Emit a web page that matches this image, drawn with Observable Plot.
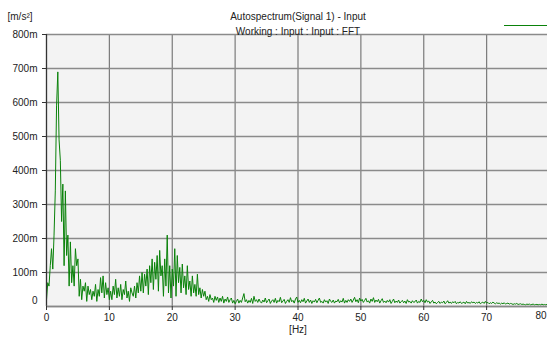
<!DOCTYPE html>
<html><head><meta charset="utf-8">
<script src="https://cdn.jsdelivr.net/npm/d3@7"></script>
<script src="https://cdn.jsdelivr.net/npm/@observablehq/plot@0.6"></script>
<style>body{margin:0;background:#fff} svg{display:block;overflow:hidden}</style>
</head><body><div id="chart"></div>
<script>
const title = "Autospectrum(Signal 1) - Input";
const subtitle = "Working : Input : Input : FFT";
const yUnit = "[m/s²]";
const xUnit = "[Hz]";
const xTicks = [0, 10, 20, 30, 40, 50, 60, 70, 80];
const yTicks = [0, 100, 200, 300, 400, 500, 600, 700, 800];
const freqStep = 0.2; // Hz between spectral lines
// autospectrum values in milli m/s², one per spectral line (0 .. 80 Hz)
const amplitude = [
  20, 70, 60, 120, 170, 110, 210, 340, 590, 690,
  490, 430, 250, 360, 120, 340, 150, 210, 60, 190,
  70, 120, 60, 170, 120, 140, 30, 80, 20, 60,
  45, 70, 15, 60, 35, 50, 20, 45, 30, 65,
  15, 50, 30, 85, 40, 90, 25, 70, 35, 55,
  20,
  45, 20, 60, 35, 80, 25, 55, 30, 65, 20,
  50, 35, 75, 25, 45, 15, 55, 40, 30, 60,
  25, 70, 40, 90, 45,
  100, 40, 95, 60, 110, 35, 120, 70, 140, 50,
  130, 80, 150, 45, 165, 90, 120, 30, 140, 60,
  210, 40, 120, 25, 110, 60, 170, 30, 150, 70,
  115, 40, 125, 55, 90, 35, 120, 50, 75, 30,
  90, 40, 65, 30, 95, 35, 55, 25, 50, 30,
  45, 20, 30, 15, 35, 20, 25, 12, 30, 18,
  28, 12, 25, 15, 30, 10, 22, 15, 28, 12,
  20, 25, 10, 18, 8,
  15, 22, 10, 18, 12, 25, 38, 14, 20, 10,
  18, 12, 24, 9, 30, 15, 20, 12, 22, 14,
  10, 19, 13, 25, 11, 17, 22, 9, 16, 20,
  12, 24, 10, 18, 14, 27, 11, 16, 21, 9,
  15, 20, 12, 26, 14, 18, 10, 22, 28, 12,
  18, 11, 20, 14, 24, 10, 16, 22, 12, 19,
  9, 17, 13, 21, 11, 18, 25, 12, 15, 10,
  20, 13, 17, 9, 22, 15, 12, 19, 10, 16,
  14, 21, 11, 17, 13, 24, 10, 18, 12, 20,
  15, 22, 12, 19, 27, 14, 20, 11, 25, 16,
  21, 12, 18, 24, 13, 17, 10, 22, 15, 26,
  12, 19, 14, 21, 10, 17, 23, 12, 16, 11,
  18, 13, 20, 9, 15, 22, 11, 16, 12, 19,
  10, 14, 18, 11, 16, 9, 20, 13, 15, 10,
  17, 12, 14, 19, 10, 15, 12, 22, 14, 18,
  11, 20, 13, 16, 9, 14, 18, 10, 13, 8,
  12, 15, 9, 13, 11, 16, 8, 12, 17, 10,
  13, 9, 14, 11, 15, 8, 12, 10, 14, 9,
  11, 13, 8, 15, 10, 12, 9, 14, 11, 13,
  9, 12, 10, 14, 8, 11, 13, 9, 15, 10,
  12, 8, 11, 9, 13, 10, 8, 11, 9, 10,
  7, 10, 8, 11, 7, 9, 10, 7, 9, 8,
  6, 8, 7, 9, 6, 7, 8, 6, 7, 6,
  5, 7, 6, 7, 5, 6, 7, 5, 6, 6,
  5, 6, 5, 7, 5, 6, 5, 6, 5, 6
];
const data = amplitude.map((v, i) => ({f: i * freqStep, v}));
const fmt = d => d === 0 ? "0" : d + "m";
const lastTick = xTicks[xTicks.length - 1];

const chart = Plot.plot({
  width: 547, height: 339,
  marginLeft: 46, marginRight: -2, marginTop: 34, marginBottom: 33,
  style: {fontFamily: "'Liberation Sans', Arial, sans-serif", fontSize: "10px", background: "#fff", color: "#222", overflow: "hidden"},
  x: {domain: [0, 80]},
  y: {domain: [0, 800]},
  marks: [
    Plot.frame({fill: "#f3f3f3", stroke: null}),
    Plot.gridX(xTicks, {stroke: "#7a7a7a", strokeOpacity: 1, strokeWidth: 1.2}),
    Plot.gridY(yTicks, {stroke: "#8a8a8a", strokeOpacity: 1, strokeWidth: 1.4}),
    Plot.line(data, {x: "f", y: "v", stroke: "#0a820a", strokeWidth: 1}),
    Plot.ruleX([0], {stroke: "#333", strokeWidth: 1.2}),
    Plot.ruleY([0], {stroke: "#888", strokeWidth: 1.4}),
    Plot.axisX(xTicks, {tickSize: 4, tickPadding: 3, label: null, stroke: "#333", fill: "#222",
      tickFormat: d => d === lastTick ? "" : String(d)}),
    Plot.text([lastTick], {x: d => d, text: d => String(d), frameAnchor: "bottom", dy: 12, textAnchor: "end", dx: -3, fill: "#222"}),
    Plot.axisY(yTicks.filter(d => d > 0), {tickSize: 4, tickPadding: 5, tickFormat: fmt, label: null, stroke: "#333", fill: "#222"}),
    Plot.axisY([0], {tickSize: 0, tickPadding: 9, dy: -6, tickFormat: fmt, label: null, fill: "#222"}),
    Plot.text([xUnit], {x: 40, frameAnchor: "bottom", dy: 26, fill: "#222"}),
    Plot.text([title], {x: 40, frameAnchor: "top", dy: -22, fill: "#222"}),
    Plot.text([subtitle], {x: 40, frameAnchor: "top", dy: -7, fill: "#222"}),
    Plot.text([yUnit], {frameAnchor: "top-left", dx: -39, dy: -22, textAnchor: "start", fill: "#222"})
  ]
});
d3.select(chart).append("line")
  .attr("x1", 504).attr("x2", 547).attr("y1", 25.5).attr("y2", 25.5)
  .attr("stroke", "#0a820a").attr("stroke-width", 1);
document.getElementById("chart").append(chart);
</script></body></html>
